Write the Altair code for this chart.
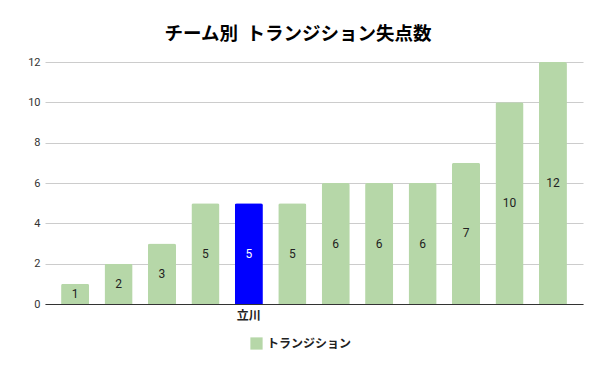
import altair as alt
import pandas as pd

order = list(range(12))
labels = ["", "", "", "", "立川", "", "", "", "", "", "", ""]
values = [1, 2, 3, 5, 5, 5, 6, 6, 6, 7, 10, 12]
series_name = "トランジション"
highlight_index = 4

df = pd.DataFrame({
    "idx": order,
    "label": labels,
    "value": values,
    "series": [series_name] * len(values),
})
df["half"] = df["value"] / 2

label_map = "{" + ",".join(f"'{i}':'{l}'" for i, l in zip(order, labels)) + "}"

x = alt.X("idx:O", title=None,
          scale=alt.Scale(paddingInner=0.354, paddingOuter=0.37),
          axis=alt.Axis(labelExpr=f"{label_map}[datum.value]", labelAngle=0,
                        ticks=False, domainColor="#333333", domainWidth=1,
                        labelFont="Noto Sans CJK JP", labelFontSize=12,
                        labelFontWeight="bold", labelColor="#222222",
                        labelPadding=6, grid=False))

base = alt.Chart(df)

bars = base.mark_bar(cornerRadiusTopLeft=2, cornerRadiusTopRight=2).encode(
    x=x,
    y=alt.Y("value:Q", title=None,
            scale=alt.Scale(domain=[0, 12]),
            axis=alt.Axis(values=[0, 2, 4, 6, 8, 10, 12], ticks=False, domain=False,
                          gridColor="#cccccc", labelFont="Roboto", labelFontSize=11,
                          labelColor="#333333", labelPadding=5)),
    color=alt.condition(
        f"datum.idx == {highlight_index}",
        alt.value("#0000ff"),
        alt.Color("series:N", title=None,
                  scale=alt.Scale(domain=[series_name], range=["#b6d7a8"]),
                  legend=alt.Legend(orient="none", legendX=205, legendY=275, padding=0,
                                    direction="horizontal",
                                    symbolType="square", symbolSize=150,
                                    symbolStrokeWidth=0, labelFont="Noto Sans CJK JP",
                                    labelFontSize=12, labelFontWeight="bold",
                                    labelColor="#222222")),
    ),
)

text = base.mark_text(font="Roboto", fontSize=12, baseline="middle").encode(
    x=alt.X("idx:O"),
    y=alt.Y("half:Q"),
    text=alt.Text("value:Q"),
    color=alt.condition(f"datum.idx == {highlight_index}",
                        alt.value("#ffffff"), alt.value("#222222")),
)

chart = (bars + text).properties(
    width=538,
    height=242,
    autosize="none",
    padding={"left": 37, "top": 54, "right": 5, "bottom": 60},
    title=alt.TitleParams("チーム別\u00a0\u00a0トランジション失点数", font="Noto Sans CJK JP",
                          fontSize=18.5, fontWeight="bold", color="#000000",
                          anchor="middle", frame="group", dx=-16, offset=13),
).configure_view(stroke=None)

chart.save("out.html", embed_options={"renderer": "svg", "actions": False})
